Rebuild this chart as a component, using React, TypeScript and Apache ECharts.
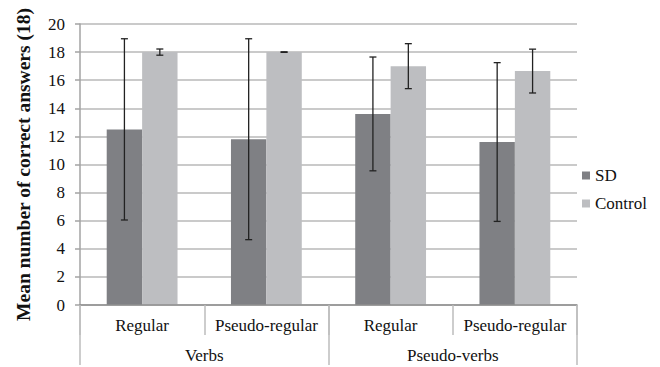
import React, { useEffect, useRef } from "react";
import * as echarts from "echarts";

const innerCategories = ["Regular", "Pseudo-regular", "Regular", "Pseudo-regular"];
const outerCategories = ["Verbs", "Pseudo-verbs"];
const seriesNames = ["SD", "Control"];
const sdMeans = [12.5, 11.8, 13.6, 11.6];
const sdErrors = [6.45, 7.15, 4.05, 5.65];
const controlMeans = [18.0, 18.0, 17.0, 16.65];
const controlErrors = [0.22, 0.02, 1.6, 1.56];
const yTicks = { min: 0, max: 20, interval: 2 };

const FONT = "Liberation Serif";
const GAP = 0.43;

export default function App() {
  const ref = useRef<HTMLDivElement>(null);
  useEffect(() => {
    if (!ref.current) return;
    const chart = echarts.init(ref.current, undefined, { renderer: "svg" });
    const errData: number[][] = [];
    sdMeans.forEach((m, i) => errData.push([i, m - sdErrors[i], m + sdErrors[i], 0]));
    controlMeans.forEach((m, i) => errData.push([i, m - controlErrors[i], m + controlErrors[i], 1]));
    const axisColor = "#a3a3a3";
    const tickColor = "#bdbdbd";
    chart.setOption({
      animation: false,
      textStyle: { fontFamily: FONT },
      grid: { left: 80, right: 83, top: 24, bottom: 62, containLabel: false },
      legend: {
        orient: "vertical",
        left: 582,
        top: 167,
        padding: 0,
        itemWidth: 8,
        itemHeight: 8,
        itemGap: 11,
        itemTextGap: 5,
        icon: "rect",
        textStyle: { fontFamily: FONT, fontSize: 17, color: "#111" },
        data: seriesNames,
      },
      xAxis: [
        {
          type: "category",
          data: innerCategories,
          position: "bottom",
          axisLine: { show: true, lineStyle: { color: "#8e8e8e", width: 1.5 } },
          axisTick: { show: true, length: 30, interval: 0, lineStyle: { color: tickColor, width: 1.5 } },
          axisLabel: { interval: 0, margin: 12, fontFamily: FONT, fontSize: 17, color: "#111" },
          splitLine: { show: false },
          z: 5,
        },
        {
          type: "category",
          data: outerCategories,
          position: "bottom",
          axisLine: { show: false },
          axisTick: { show: true, length: 60, interval: 0, lineStyle: { color: tickColor, width: 1.5 } },
          axisLabel: { interval: 0, margin: 42, fontFamily: FONT, fontSize: 17, color: "#111" },
          splitLine: { show: false },
        },
      ],
      yAxis: {
        type: "value",
        min: yTicks.min,
        max: yTicks.max,
        interval: yTicks.interval,
        name: "Mean number of correct answers (18)",
        nameLocation: "middle",
        nameGap: 47,
        nameTextStyle: { fontFamily: FONT, fontSize: 19.5, fontWeight: "bold", color: "#111" },
        axisLine: { show: true, lineStyle: { color: axisColor, width: 1.5 } },
        axisTick: { show: true, length: 5, lineStyle: { color: axisColor, width: 1.5 } },
        axisLabel: { margin: 15, fontFamily: FONT, fontSize: 17, color: "#111" },
        splitLine: { show: true, lineStyle: { color: "#b8b8b8", width: 1.5 } },
      },
      series: [
        {
          name: seriesNames[0],
          type: "bar",
          data: sdMeans,
          barGap: "0%",
          barCategoryGap: GAP * 100 + "%",
          itemStyle: { color: "#7f8084" },
        },
        {
          name: seriesNames[1],
          type: "bar",
          data: controlMeans,
          barGap: "0%",
          barCategoryGap: GAP * 100 + "%",
          itemStyle: { color: "#bdbec1" },
        },
        {
          type: "custom",
          name: "err",
          data: errData,
          encode: { x: 0, y: [1, 2] },
          z: 10,
          renderItem: (params: any, api: any) => {
            const cat = api.value(0);
            const lo = api.value(1);
            const hi = api.value(2);
            const s = api.value(3);
            const catW = api.size([1, 0])[0];
            const bw = (catW * (1 - GAP)) / 2;
            const p1 = api.coord([cat, lo]);
            const p2 = api.coord([cat, hi]);
            const x = p1[0] + (s === 0 ? -bw / 2 : bw / 2);
            const cap = 3.5;
            const style = { stroke: "#222", lineWidth: 1.3 };
            return {
              type: "group",
              children: [
                { type: "line", shape: { x1: x, y1: p1[1], x2: x, y2: p2[1] }, style },
                { type: "line", shape: { x1: x - cap, y1: p1[1], x2: x + cap, y2: p1[1] }, style },
                { type: "line", shape: { x1: x - cap, y1: p2[1], x2: x + cap, y2: p2[1] }, style },
              ],
            };
          },
        },
      ],
    });
    return () => chart.dispose();
  }, []);
  return <div ref={ref} style={{ width: 660, height: 367, position: "absolute", left: 0, top: 0 }} />;
}
